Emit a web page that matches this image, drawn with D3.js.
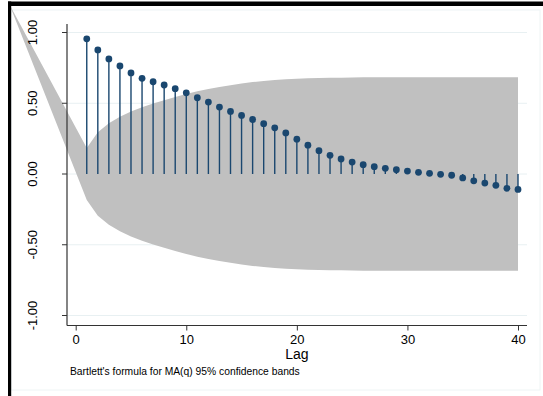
<!DOCTYPE html>
<html>
<head>
<meta charset="utf-8">
<script src="https://cdn.jsdelivr.net/npm/d3@7"></script>
<style>
  html, body { margin: 0; padding: 0; background: #ffffff; }
  svg { display: block; }
  text { font-family: "Liberation Sans", Arial, Helvetica, sans-serif; fill: #000; }
</style>
</head>
<body>
<div id="chart"></div>
<script>
// Autocorrelations by lag
const lags = d3.range(1, 41);
const acf = [
  0.955, 0.877, 0.813, 0.764, 0.714, 0.676, 0.652, 0.629, 0.603, 0.574,
  0.539, 0.508, 0.473, 0.442, 0.414, 0.385, 0.356, 0.326, 0.290, 0.246,
  0.204, 0.165, 0.132, 0.106, 0.084, 0.066, 0.052, 0.040, 0.030, 0.021,
  0.012, 0.005, -0.002, -0.009, -0.028, -0.048, -0.064, -0.080, -0.101, -0.109
];

// Bartlett 95% band half-widths by lag
const bandHalf = [
  0.184, 0.295, 0.358, 0.405, 0.442, 0.472, 0.498, 0.522, 0.545, 0.565,
  0.584, 0.600, 0.615, 0.628, 0.640, 0.650, 0.658, 0.665, 0.670, 0.674,
  0.677, 0.679, 0.680, 0.681, 0.682, 0.683, 0.683, 0.683, 0.684, 0.684,
  0.684, 0.684, 0.684, 0.684, 0.684, 0.684, 0.684, 0.684, 0.684, 0.684
];
// Band starting vertex (lag, value) shared by upper and lower edges
const bandStart = { lag: -6, value: 1.2 };

const yTicks = [-1, -0.5, 0, 0.5, 1];
const yTickLabels = ["-1.00", "-0.50", "0.00", "0.50", "1.00"];
const xTicks = [0, 10, 20, 30, 40];
const xTitle = "Lag";
const note = "Bartlett's formula for MA(q) 95% confidence bands";

const W = 543, H = 396;
const navy = "#1a476f";
const grid = "#e8f0f2";

const x = d3.scaleLinear().domain([0, 40]).range([75.7, 518]);
const y = d3.scaleLinear().domain([-1, 1]).range([315.5, 32.5]);

const svg = d3.select("#chart").append("svg")
  .attr("width", W).attr("height", H);

svg.append("rect").attr("width", W).attr("height", H).attr("fill", "#fff");

// faint graph-region border
svg.append("rect")
  .attr("x", 11).attr("y", 10).attr("width", 529).attr("height", 380)
  .attr("fill", "none").attr("stroke", "#eef4f5").attr("stroke-width", 1);

// gridlines
svg.append("g").selectAll("line").data(yTicks).join("line")
  .attr("x1", 67).attr("x2", 527)
  .attr("y1", d => y(d)).attr("y2", d => y(d))
  .attr("stroke", grid).attr("stroke-width", 1);

// confidence band
const bandPts = [{ lag: bandStart.lag, hi: bandStart.value, lo: bandStart.value }]
  .concat(lags.map((l, i) => ({ lag: l, hi: bandHalf[i], lo: -bandHalf[i] })));
const area = d3.area()
  .x(d => x(d.lag))
  .y0(d => y(d.lo))
  .y1(d => y(d.hi))
  .curve(d3.curveLinear);
svg.append("path").datum(bandPts)
  .attr("d", area)
  .attr("fill", "#c0c0c0");

// axes
const yAxis = d3.axisLeft(y).tickValues(yTicks).tickSize(5)
  .tickFormat((d, i) => yTickLabels[i]);
const gy = svg.append("g").attr("transform", "translate(67,0)").call(yAxis);
gy.select(".domain").attr("d", "M0,24V325.5").attr("stroke", "#333").attr("stroke-width", 1.2);
gy.selectAll(".tick line").attr("stroke", "#333");
gy.selectAll(".tick text")
  .attr("font-size", 13)
  .attr("x", 0).attr("dy", 0)
  .attr("text-anchor", "middle")
  .attr("transform", d => `translate(-35,${y(d)}) rotate(-90) translate(0,${-y(d)})`)
  .attr("y", d => y(d) + 4.5)
  .style("font-family", "'Liberation Sans', Arial, sans-serif");
gy.selectAll(".tick").attr("transform", null);
gy.selectAll(".tick line").attr("y1", d => y(d)).attr("y2", d => y(d));

const xAxis = d3.axisBottom(x).tickValues(xTicks).tickSize(5).tickPadding(4);
const gx = svg.append("g").attr("transform", "translate(0,325.5)").call(xAxis);
gx.select(".domain").attr("d", "M67,0H527").attr("stroke", "#333").attr("stroke-width", 1.2);
gx.selectAll(".tick line").attr("stroke", "#333");
gx.selectAll(".tick text").attr("font-size", 13)
  .style("font-family", "'Liberation Sans', Arial, sans-serif");

svg.append("text")
  .attr("x", x(20)).attr("y", 359)
  .attr("text-anchor", "middle").attr("font-size", 14)
  .text(xTitle);

svg.append("text")
  .attr("x", 70).attr("y", 375)
  .attr("font-size", 10.3)
  .text(note);

// stems and markers
svg.append("g").selectAll("line").data(lags).join("line")
  .attr("x1", d => x(d)).attr("x2", d => x(d))
  .attr("y1", y(0)).attr("y2", (d, i) => y(acf[i]))
  .attr("stroke", navy).attr("stroke-width", 1.4);
svg.append("g").selectAll("circle").data(lags).join("circle")
  .attr("cx", d => x(d)).attr("cy", (d, i) => y(acf[i]))
  .attr("r", 3.4).attr("fill", navy);

// outer frame edges
svg.append("rect").attr("x", 8).attr("y", 1.5).attr("width", W - 8).attr("height", 4.5).attr("fill", "#000");
svg.append("rect").attr("x", 8).attr("y", 1.5).attr("width", 3.2).attr("height", H).attr("fill", "#000");
</script>
</body>
</html>
